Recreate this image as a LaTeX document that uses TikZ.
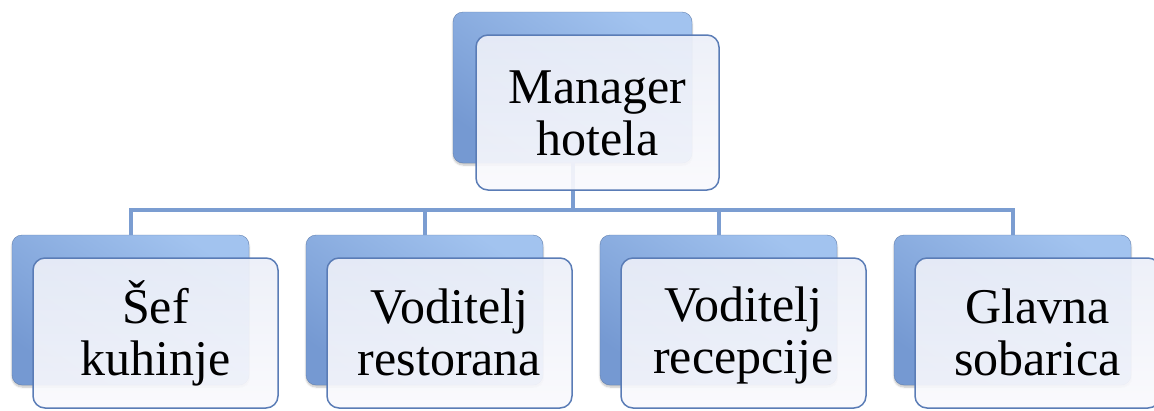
\documentclass[tikz,border=0pt]{standalone}
\usepackage{fontspec}
\setmainfont{Liberation Serif}
\usetikzlibrary{shadows.blur}
\definecolor{backtop}{HTML}{A2C3EF}
\definecolor{backbot}{HTML}{7599D2}
\definecolor{fronttop}{HTML}{ECEFF8}
\definecolor{frontbot}{HTML}{F9F9FD}
\definecolor{frontline}{HTML}{5A7CB6}
\definecolor{connc}{HTML}{7B9DD1}
\newcommand\lnstrut{\rule[-7pt]{0pt}{47pt}}
\tikzset{
  backbox/.style={rectangle, rounded corners=10pt, top color=backtop, bottom color=backbot,
    shading angle=-35, draw=backbot!85!black, line width=0.4pt, inner sep=0pt,
    blur shadow={shadow xshift=0pt, shadow yshift=-2pt, shadow blur steps=6, shadow opacity=25}},
  frontbox/.style={rectangle, rounded corners=12pt, top color=fronttop, bottom color=frontbot,
    fill opacity=0.92, text opacity=1, draw=frontline, draw opacity=1, line width=1.5pt,
    inner sep=0pt, align=center, font=\fontsize{50}{52}\selectfont, text=black},
  conn/.style={draw=connc, line width=4pt},
}
\begin{document}
\begin{tikzpicture}[x=1pt,y=-1pt]
\useasboundingbox (0,0) rectangle (1154,410);
\clip (0,0) rectangle (1154,410);
% back boxes
\node[backbox, minimum width=239pt, minimum height=151pt] (topb) at (572.5,87.5) {};
\foreach \i in {1,...,4} {
  \node[backbox, minimum width=237pt, minimum height=150pt] (b\i) at (130.5+294*\i-294,310) {};
}
% connectors
\coordinate (bus) at (572.5,210);
\draw[conn] (topb.south) -- (bus);
\foreach \i in {1,...,4} {
  \draw[conn] (bus) -| (b\i.north);
}
% front boxes
\node[frontbox, minimum width=243pt, minimum height=155pt] (topf) at (597.5,112.5) {\lnstrut Manager\\\lnstrut hotela};
\node[frontbox, minimum width=245pt, minimum height=150pt] (f1) at (155.5,333) {\lnstrut Šef\\\lnstrut kuhinje};
\node[frontbox, minimum width=245pt, minimum height=150pt] (f2) at (449.5,333) {\lnstrut Voditelj\\\lnstrut restorana};
\node[frontbox, minimum width=245pt, minimum height=150pt] (f3) at (743.5,333) {\lnstrut Voditelj\\\lnstrut recepcije};
\node[frontbox, minimum width=245pt, minimum height=150pt] (f4) at (1037.5,333) {\lnstrut Glavna\\\lnstrut sobarica};
\end{tikzpicture}
\end{document}
